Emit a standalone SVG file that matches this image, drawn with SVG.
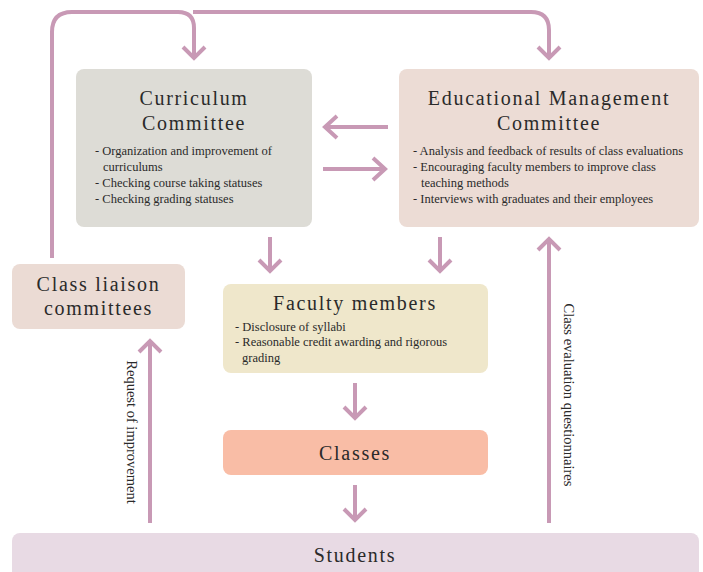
<svg xmlns="http://www.w3.org/2000/svg" width="703" height="572" viewBox="0 0 703 572">
<defs>
<style>
text{font-family:'Liberation Serif','Times New Roman','DejaVu Serif',serif;fill:#2a2a2a;}
.h{font-size:20px;letter-spacing:1.7px;text-anchor:middle;}
.b{font-size:12.5px;}
.l{font-size:14.5px;}
.c{fill:none;stroke:#c899b5;stroke-width:4;}
.ah{fill:none;stroke:#c899b5;stroke-width:4;stroke-linecap:butt;stroke-linejoin:miter;}
</style>
</defs>
<rect width="703" height="572" fill="#ffffff"/>
<g id="curriculum">
<rect x="76" y="69" width="236" height="158" rx="8" fill="#dddcd6"/>
<text class="h" x="194" y="105">Curriculum</text>
<text class="h" x="194" y="130">Committee</text>
<text class="b" x="95" y="155">- Organization and improvement of</text>
<text class="b" x="103" y="171">curriculums</text>
<text class="b" x="95" y="187">- Checking course taking statuses</text>
<text class="b" x="95" y="203">- Checking grading statuses</text>
</g>
<g id="emc">
<rect x="399" y="69" width="300" height="158" rx="8" fill="#ecdcd5"/>
<text class="h" x="549" y="105">Educational Management</text>
<text class="h" x="549" y="130">Committee</text>
<text class="b" x="413" y="155">- Analysis and feedback of results of class evaluations</text>
<text class="b" x="413" y="171">- Encouraging faculty members to improve class</text>
<text class="b" x="421" y="187">teaching methods</text>
<text class="b" x="413" y="203">- Interviews with graduates and their employees</text>
</g>
<g id="liaison">
<rect x="12" y="264" width="173" height="65" rx="8" fill="#ebdbd4"/>
<text class="h" x="98.5" y="291">Class liaison</text>
<text class="h" x="98.5" y="315">committees</text>
</g>
<g id="faculty">
<rect x="223" y="284" width="265" height="89" rx="8" fill="#efe7cb"/>
<text class="h" x="355" y="310">Faculty members</text>
<text class="b" x="235" y="331">- Disclosure of syllabi</text>
<text class="b" x="235" y="346">- Reasonable credit awarding and rigorous</text>
<text class="b" x="242" y="362">grading</text>
</g>
<g id="classes">
<rect x="223" y="430" width="265" height="45" rx="8" fill="#f9bda6"/>
<text class="h" x="355" y="460">Classes</text>
</g>
<g id="students">
<rect x="12" y="533" width="687" height="50" rx="8" fill="#e8dae4"/>
<text class="h" x="355" y="562">Students</text>
</g>
<g id="connectors">
<path class="c" d="M52,258 V32 Q52,12 72,12 H178 Q194,12 194,28 V58"/>
<polyline class="ah" points="183,47 194,58 205,47"/>
<path class="c" d="M193,12 H531 Q549,12 549,30 V58"/>
<polyline class="ah" points="538,47 549,58 560,47"/>
<path class="c" d="M388,127 H325"/>
<polyline class="ah" points="337,116 325,127 337,138"/>
<path class="c" d="M323,169 H385"/>
<polyline class="ah" points="373,158 385,169 373,180"/>
<path class="c" d="M270,237 V271"/>
<polyline class="ah" points="259,260 270,271 281,260"/>
<path class="c" d="M440,237 V271"/>
<polyline class="ah" points="429,260 440,271 451,260"/>
<path class="c" d="M355,383 V418"/>
<polyline class="ah" points="344,407 355,418 366,407"/>
<path class="c" d="M355,485 V520"/>
<polyline class="ah" points="344,509 355,520 366,509"/>
<path class="c" d="M150,523 V341"/>
<polyline class="ah" points="139,352 150,341 161,352"/>
<path class="c" d="M549,523 V239"/>
<polyline class="ah" points="538,250 549,239 560,250"/>
<text class="l" transform="translate(127,432) rotate(90)" text-anchor="middle">Request of improvement</text>
<text class="l" transform="translate(564,395) rotate(90)" text-anchor="middle">Class evaluation questionnaires</text>
</g>
</svg>
